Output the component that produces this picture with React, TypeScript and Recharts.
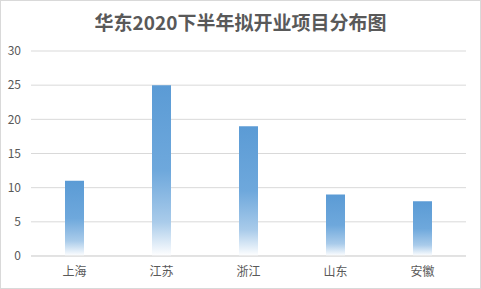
import React from "react";
import { BarChart, Bar, XAxis, YAxis, CartesianGrid } from "recharts";

const provinces = ["上海", "江苏", "浙江", "山东", "安徽"];
const openings = [11, 25, 19, 9, 8];
const yTicks = [0, 5, 10, 15, 20, 25, 30];

const rows = provinces.map((name, i) => ({ name, value: openings[i] }));

const FONT = "'Noto Sans CJK SC', 'Liberation Sans', sans-serif";
const TEXT = "#595959";

export default function App() {
  return (
    <div
      style={{
        position: "fixed",
        top: 0,
        left: 0,
        width: 481,
        height: 289,
        background: "#fff",
        fontFamily: FONT,
      }}
    >
      <div
        style={{
          position: "absolute",
          top: 0,
          left: 0,
          width: 481,
          textAlign: "center",
          fontSize: 19,
          fontWeight: 700,
          color: TEXT,
          lineHeight: "43px",
        }}
      >
        华东2020下半年拟开业项目分布图
      </div>
      <BarChart
        width={481}
        height={289}
        data={rows}
        margin={{ top: 51, right: 15, left: 0, bottom: 0 }}
        barCategoryGap={0}
      >
        <defs>
          {/* solid blue at the top, washing out to white at the baseline */}
          <linearGradient id="barFade" x1="0" y1="0" x2="0" y2="1">
            <stop offset="0" stopColor="#5b9bd5" />
            <stop offset="0.5" stopColor="#6ea8dc" />
            <stop offset="0.8" stopColor="#a9cbea" />
            <stop offset="1" stopColor="#ffffff" />
          </linearGradient>
        </defs>
        <CartesianGrid vertical={false} stroke="#d9d9d9" />
        <XAxis
          dataKey="name"
          height={33}
          tickLine={false}
          axisLine={{ stroke: "#d9d9d9" }}
          tickMargin={5}
          tick={{ fontSize: 12, fill: TEXT, fontFamily: FONT }}
        />
        <YAxis
          width={31}
          domain={[0, 30]}
          ticks={yTicks}
          tickLine={false}
          axisLine={false}
          tickMargin={4}
          tick={{ fontSize: 12, fill: TEXT, fontFamily: FONT }}
        />
        <Bar dataKey="value" fill="url(#barFade)" barSize={19} isAnimationActive={false} />
      </BarChart>
      <div
        style={{
          position: "absolute",
          top: 0,
          left: 0,
          width: 481,
          height: 289,
          boxSizing: "border-box",
          border: "1px solid #d9d9d9",
          pointerEvents: "none",
        }}
      />
    </div>
  );
}
